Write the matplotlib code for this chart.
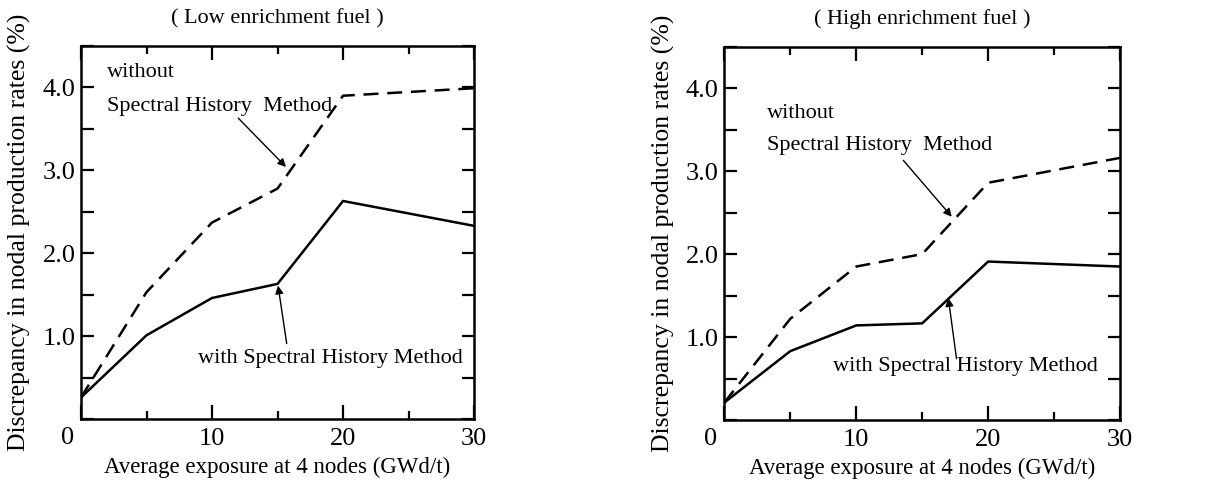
import matplotlib
matplotlib.use('Agg')
import matplotlib.pyplot as plt
from matplotlib.ticker import MultipleLocator

plt.rcParams['font.family'] = ['Liberation Serif', 'DejaVu Serif']

# exposure points (GWd/t)
exposure = [0, 5, 10, 15, 20, 30]

# discrepancy (%)
low_with = [0.26, 1.01, 1.46, 1.63, 2.63, 2.33]
low_without = [0.26, 1.53, 2.37, 2.78, 3.90, 3.99]
high_with = [0.21, 0.83, 1.14, 1.165, 1.91, 1.85]
high_without = [0.21, 1.22, 1.85, 2.00, 2.86, 3.16]

xticks = [0, 10, 20, 30]
xticklabels = ['', '10', '20', '30']   # "0" drawn separately, left of the corner
yticks = [1.0, 2.0, 3.0, 4.0]
yticklabels = ['1.0', '2.0', '3.0', '4.0']

titles = ['( Low enrichment fuel )', '( High enrichment fuel )']
xlabel = 'Average exposure at 4 nodes (GWd/t)'
ylabel = 'Discrepancy in nodal production rates (%)'

panels = [
    {
        'rect': [0.0658, 0.1396, 0.3193, 0.766],
        'with': low_with, 'without': low_without,
        'without_text': (1.98, 4.18, 3.77),
        'arrow_up': ((12.0, 3.63), (15.65, 3.04)),
        'with_text': (8.9, 0.73),
        'arrow_lo': ((15.7, 0.91), (15.04, 1.61)),
    },
    {
        'rect': [0.5884, 0.1376, 0.3215, 0.7665],
        'with': high_with, 'without': high_without,
        'without_text': (3.2, 3.70, 3.31),
        'arrow_up': ((13.57, 3.13), (17.24, 2.45)),
        'with_text': (8.27, 0.64),
        'arrow_lo': ((17.6, 0.74), (16.98, 1.47)),
    },
]

fig = plt.figure(figsize=(12.31, 4.87), dpi=100, facecolor='white')

for title, p in zip(titles, panels):
    ax = fig.add_axes(p['rect'])
    ax.plot(exposure, p['with'], color='black', lw=1.8, solid_joinstyle='miter')
    ax.plot(exposure, p['without'], color='black', lw=1.8, dashes=(6, 3.5))

    ax.set_xlim(0, 30)
    ax.set_ylim(0, 4.5)
    ax.set_xticks(xticks)
    ax.set_xticklabels(xticklabels)
    ax.xaxis.set_minor_locator(MultipleLocator(5))
    ax.set_yticks(yticks)
    ax.set_yticklabels(yticklabels)
    ax.yaxis.set_minor_locator(MultipleLocator(0.5))
    ax.tick_params(which='both', direction='in', top=True, right=True,
                   width=1.6, labelsize=19)
    ax.tick_params(axis='x', which='major', length=10, pad=6.5)
    ax.tick_params(axis='x', which='minor', length=6)
    ax.tick_params(axis='y', which='both', length=9, pad=4)
    for s in ax.spines.values():
        s.set_linewidth(1.8)

    # the 0 label sits left of the corner
    ax.annotate('0', xy=(0, 0), xycoords=('data', 'axes fraction'),
                xytext=(-10, -5.5), textcoords='offset points',
                ha='center', va='top', fontsize=19)

    ax.set_title(title, fontsize=16, pad=16)
    ax.set_xlabel(xlabel, fontsize=16.5, labelpad=5)
    ax.set_ylabel(ylabel, fontsize=18.5, labelpad=8)

    tx, ty1, ty2 = p['without_text']
    ax.text(tx, ty1, 'without', fontsize=16, va='center', ha='left')
    ax.text(tx, ty2, 'Spectral History  Method', fontsize=16, va='center', ha='left')
    wx, wy = p['with_text']
    ax.text(wx, wy, 'with Spectral History Method', fontsize=16, va='center', ha='left')

    for key in ['arrow_up', 'arrow_lo']:
        tail, head = p[key]
        ax.annotate('', xy=head, xytext=tail,
                    arrowprops=dict(arrowstyle='-|>', color='black', lw=1.0,
                                    mutation_scale=12, shrinkA=0, shrinkB=0))

fig.savefig('out.png', dpi=100, facecolor='white')
